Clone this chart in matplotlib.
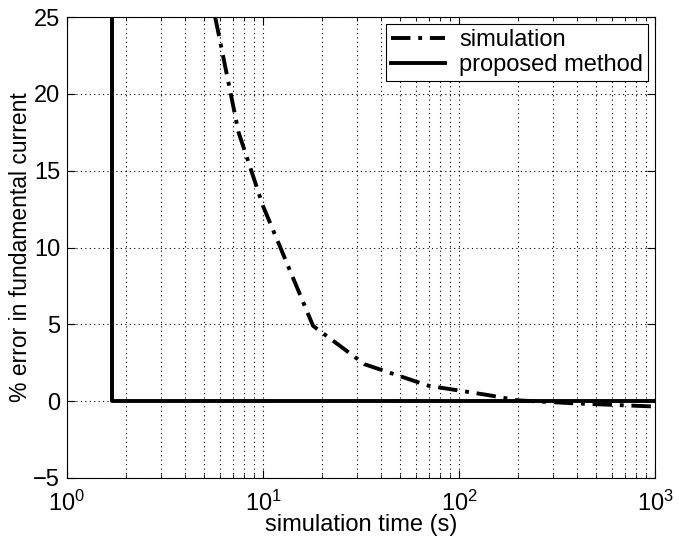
import matplotlib
matplotlib.use("Agg")
import matplotlib.pyplot as plt
from matplotlib.ticker import LogLocator, NullFormatter

plt.rcParams['font.family'] = ['Liberation Sans', 'DejaVu Sans']
plt.rcParams['mathtext.fontset'] = 'custom'
plt.rcParams['mathtext.rm'] = 'Liberation Sans'
plt.rcParams['mathtext.it'] = 'Liberation Sans'

sim_t = [5.7, 7.5, 10, 18, 33, 70, 140, 200, 400, 1000]
sim_err = [25, 17.5, 12.7, 4.9, 2.4, 1.0, 0.4, 0.05, -0.15, -0.35]
prop_t = [1.7, 1.7, 1000]
prop_err = [25, 0, 0]

fs = 17
fig = plt.figure(figsize=(6.79, 5.37), dpi=100)
ax = fig.add_axes([0.0987, 0.1099, 0.866, 0.8584])
ax.plot(sim_t, sim_err, color='black', lw=2.8, linestyle=(0, (5, 2, 1, 2)), label='simulation')
ax.plot(prop_t, prop_err, color='black', lw=2.8, linestyle='-', label='proposed method')
ax.set_xscale('log')
ax.set_xlim(1, 1000)
ax.set_ylim(-5, 25)
ax.set_yticks([-5, 0, 5, 10, 15, 20, 25])
ax.xaxis.set_minor_locator(LogLocator(base=10, subs=range(2, 10)))
ax.xaxis.set_minor_formatter(NullFormatter())
ax.grid(True, which='major', axis='both', linestyle=(0, (1, 3)), color='black', lw=0.8)
ax.grid(True, which='minor', axis='x', linestyle=(0, (1, 3)), color='black', lw=0.8)
ax.tick_params(which='both', direction='in', top=True, right=True, labelsize=fs)
ax.tick_params(which='major', length=6)
ax.tick_params(which='minor', length=3)
ax.tick_params(axis='x', which='major', pad=9)
ax.tick_params(axis='y', which='major', pad=5)
ax.set_xlabel('simulation time (s)', fontsize=fs, labelpad=-1)
ax.set_ylabel('% error in fundamental current', fontsize=16.5, labelpad=1)
leg = ax.legend(loc='upper right', fontsize=fs, frameon=True, fancybox=False,
                edgecolor='black', framealpha=1, borderaxespad=0.3, handlelength=2.3,
                borderpad=0.2, labelspacing=0.15, handletextpad=0.6)
leg.get_frame().set_linewidth(0.8)
fig.savefig('out.png', dpi=100)
